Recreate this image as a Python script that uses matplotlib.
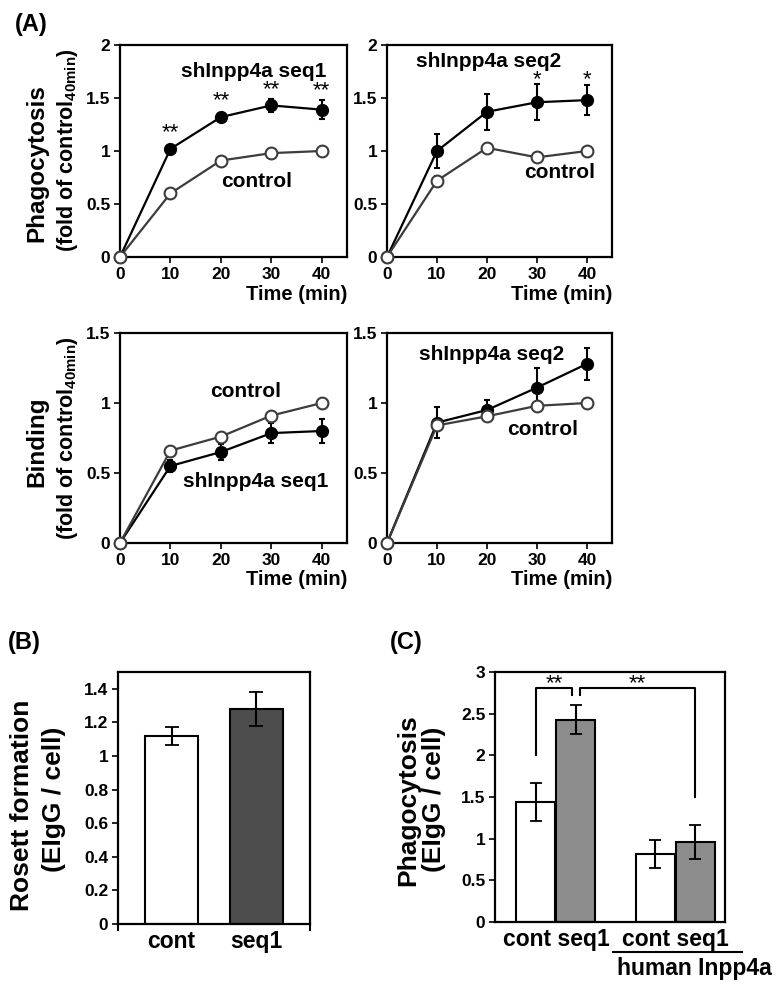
import matplotlib
matplotlib.use("Agg")
import matplotlib.pyplot as plt
from matplotlib.lines import Line2D

plt.rcParams['font.family'] = ['Liberation Sans', 'DejaVu Sans']
plt.rcParams['font.weight'] = 'bold'
plt.rcParams['mathtext.fontset'] = 'custom'
plt.rcParams['mathtext.rm'] = 'Liberation Sans'
plt.rcParams['mathtext.bf'] = 'Liberation Sans:bold'

# ---------------- data ----------------
time = [0, 10, 20, 30, 40]
time_ticks = [0, 10, 20, 30, 40]

# Phagocytosis, seq1 panel
ph1_sh = [0.0, 1.02, 1.32, 1.43, 1.39]
ph1_sh_err = [0.0, 0.03, 0.03, 0.06, 0.09]
ph1_ct = [0.0, 0.60, 0.91, 0.98, 1.00]
ph1_ct_err = [0.0, 0.03, 0.02, 0.02, 0.0]
ph1_stars = ['', '**', '**', '**', '**']
ph1_star_y = [0, 1.17, 1.47, 1.58, 1.565]

# Phagocytosis, seq2 panel
ph2_sh = [0.0, 1.00, 1.37, 1.46, 1.48]
ph2_sh_err = [0.0, 0.16, 0.17, 0.17, 0.14]
ph2_ct = [0.0, 0.72, 1.03, 0.94, 1.00]
ph2_ct_err = [0.0, 0.04, 0.04, 0.02, 0.0]
ph2_stars = ['', '', '', '*', '*']
ph2_star_y = [0, 0, 0, 1.67, 1.67]

# Binding, seq1 panel
bd1_sh = [0.0, 0.55, 0.65, 0.785, 0.80]
bd1_sh_err = [0.0, 0.04, 0.06, 0.07, 0.085]
bd1_ct = [0.0, 0.66, 0.76, 0.91, 1.00]
bd1_ct_err = [0.0, 0.01, 0.01, 0.01, 0.0]

# Binding, seq2 panel
bd2_sh = [0.0, 0.86, 0.95, 1.11, 1.28]
bd2_sh_err = [0.0, 0.11, 0.075, 0.14, 0.115]
bd2_ct = [0.0, 0.84, 0.905, 0.98, 1.00]
bd2_ct_err = [0.0, 0.01, 0.01, 0.01, 0.0]

# (B) rosette formation
b_cats = ['cont', 'seq1']
b_vals = [1.12, 1.28]
b_err = [0.055, 0.10]
b_ticks = [0, 0.2, 0.4, 0.6, 0.8, 1.0, 1.2, 1.4]
b_ticklabels = ['0', '0.2', '0.4', '0.6', '0.8', '1', '1.2', '1.4']

# (C) phagocytosis with rescue
c_groups = ['cont seq1', 'cont seq1']
c_vals = [1.44, 2.43, 0.82, 0.96]
c_err = [0.23, 0.17, 0.17, 0.20]
c_ticks = [0, 0.5, 1, 1.5, 2, 2.5, 3]
c_ticklabels = ['0', '0.5', '1', '1.5', '2', '2.5', '3']

ph_ticks = [0, 0.5, 1, 1.5, 2]
ph_ticklabels = ['0', '0.5', '1', '1.5', '2']
bd_ticks = [0, 0.5, 1, 1.5]
bd_ticklabels = ['0', '0.5', '1', '1.5']

# ---------------- figure ----------------
W, H = 780, 985
fig = plt.figure(figsize=(W / 100, H / 100), dpi=100)
TICK_FS = 12.5
STAR_FS = 16


def ax_px(l, r, t, b):
    return fig.add_axes([l / W, 1 - b / H, (r - l) / W, (b - t) / H])


def style(ax):
    for s in ax.spines.values():
        s.set_linewidth(1.6)
    ax.tick_params(direction='out', length=4, width=1.2, labelsize=TICK_FS, pad=3)


def line_panel(ax, sh, sh_err, ct, ct_err, ymax, yt, ytl):
    ax.errorbar(time, sh, yerr=sh_err, color='black', lw=1.6, marker='o',
                ms=8.5, mfc='black', mec='black', ecolor='black',
                elinewidth=1.5, capsize=2.5, capthick=1.5, zorder=3)
    ax.errorbar(time, ct, yerr=ct_err, color='#3c3c3c', lw=1.6, marker='o',
                ms=8.5, mfc='white', mec='#3c3c3c', mew=1.5, ecolor='#3c3c3c',
                elinewidth=1.5, capsize=2.5, capthick=1.5, zorder=4)
    ax.set_xlim(0, 45)
    ax.set_ylim(0, ymax)
    ax.set_xticks(time_ticks)
    ax.set_xticklabels([str(t) for t in time_ticks])
    ax.set_yticks(yt)
    ax.set_yticklabels(ytl)
    for c in ax.get_children():
        if isinstance(c, Line2D):
            c.set_clip_on(False)
    style(ax)
    ax.text(1.0, -0.13, 'Time (min)', transform=ax.transAxes, ha='right',
            va='top', fontsize=14.5)


ax1 = ax_px(120, 347, 45, 257)
line_panel(ax1, ph1_sh, ph1_sh_err, ph1_ct, ph1_ct_err, 2, ph_ticks, ph_ticklabels)
for t, s, y in zip(time, ph1_stars, ph1_star_y):
    if s:
        ax1.text(t, y, s, ha='center', va='center', fontsize=STAR_FS, fontweight='normal')
ax1.text(26.6, 1.75, 'shInpp4a seq1', ha='center', va='center', fontsize=15)
ax1.text(27, 0.71, 'control', ha='center', va='center', fontsize=15)

ax2 = ax_px(387, 612, 45, 257)
line_panel(ax2, ph2_sh, ph2_sh_err, ph2_ct, ph2_ct_err, 2, ph_ticks, ph_ticklabels)
for t, s, y in zip(time, ph2_stars, ph2_star_y):
    if s:
        ax2.text(t, y, s, ha='center', va='center', fontsize=STAR_FS, fontweight='normal')
ax2.text(20.3, 1.84, 'shInpp4a seq2', ha='center', va='center', fontsize=15)
ax2.text(34.5, 0.80, 'control', ha='center', va='center', fontsize=15)

ax3 = ax_px(120, 347, 333, 543)
line_panel(ax3, bd1_sh, bd1_sh_err, bd1_ct, bd1_ct_err, 1.5, bd_ticks, bd_ticklabels)
ax3.text(24.9, 1.08, 'control', ha='center', va='center', fontsize=15)
ax3.text(26.9, 0.44, 'shInpp4a seq1', ha='center', va='center', fontsize=15)

ax4 = ax_px(387, 612, 333, 543)
line_panel(ax4, bd2_sh, bd2_sh_err, bd2_ct, bd2_ct_err, 1.5, bd_ticks, bd_ticklabels)
ax4.text(20.9, 1.35, 'shInpp4a seq2', ha='center', va='center', fontsize=15)
ax4.text(31.2, 0.81, 'control', ha='center', va='center', fontsize=15)

# y labels for (A)
sub = r'(fold of control$_{\mathrm{40min}}$)'
fig.text(37 / W, 1 - 163 / H, 'Phagocytosis', rotation=90, ha='center', va='center', fontsize=17.5)
fig.text(67 / W, 1 - 150 / H, sub, rotation=90, ha='center', va='center', fontsize=15.5)
fig.text(37 / W, 1 - 442 / H, 'Binding', rotation=90, ha='center', va='center', fontsize=17.5)
fig.text(67 / W, 1 - 438 / H, sub, rotation=90, ha='center', va='center', fontsize=15.5)

# ---------------- (B) ----------------
axb = ax_px(118, 310, 672, 924)
xb = list(range(len(b_cats)))
axb.bar(xb, b_vals, width=0.62, color=['white', '#4d4d4d'], edgecolor='black',
        linewidth=1.5, zorder=2)
axb.errorbar(xb, b_vals, yerr=b_err, fmt='none', ecolor='black', elinewidth=1.5,
             capsize=5, capthick=1.3, zorder=3)
axb.set_xlim(-0.63, 1.63)
axb.set_ylim(0, 1.5)
axb.set_yticks(b_ticks)
axb.set_yticklabels(b_ticklabels)
axb.set_xticks(xb)
axb.set_xticklabels(b_cats, fontsize=16.5)
style(axb)
axb.tick_params(axis='x', length=0, pad=4, labelsize=16.5)
axb.set_xticks([-0.63, 1.63], minor=True)
axb.tick_params(axis='x', which='minor', direction='out', length=5, width=1.5)
fig.text(22 / W, 1 - 805 / H, 'Rosett formation', rotation=90, ha='center', va='center', fontsize=19)
fig.text(54 / W, 1 - 799 / H, '(EIgG / cell)', rotation=90, ha='center', va='center', fontsize=19)

# ---------------- (C) ----------------
axc = ax_px(495, 725, 672, 922)
xc = [0, 1, 3, 4]
axc.bar(xc, c_vals, width=0.98, color=['white', '#8c8c8c', 'white', '#8c8c8c'],
        edgecolor='black', linewidth=1.5, zorder=2)
axc.errorbar(xc, c_vals, yerr=c_err, fmt='none', ecolor='black', elinewidth=1.5,
             capsize=4, capthick=1.3, zorder=3)
axc.set_xlim(-1.03, 4.75)
axc.set_ylim(0, 3)
axc.set_yticks(c_ticks)
axc.set_yticklabels(c_ticklabels)
axc.set_xticks([0.5, 3.5])
axc.set_xticklabels(c_groups)
style(axc)
axc.tick_params(axis='x', length=0, pad=4, labelsize=16.5)
# significance brackets
axc.plot([xc[0], xc[0], 0.9, 0.9], [2.0, 2.81, 2.81, 2.72], color='black', lw=1.5)
axc.plot([1.1, 1.1, xc[3], xc[3]], [2.72, 2.81, 2.81, 1.5], color='black', lw=1.5)
axc.text(0.47, 2.86, '**', ha='center', va='center', fontsize=STAR_FS, fontweight='normal')
axc.text(2.55, 2.86, '**', ha='center', va='center', fontsize=STAR_FS, fontweight='normal')
axc.add_line(Line2D([0.513, 1.074], [-0.12, -0.12], transform=axc.transAxes,
                    color='black', lw=1.5, clip_on=False))
axc.text(0.865, -0.185, 'human Inpp4a', transform=axc.transAxes, ha='center',
         va='center', fontsize=16.5)
fig.text(408 / W, 1 - 800 / H, 'Phagocytosis', rotation=90, ha='center', va='center', fontsize=19)
fig.text(434 / W, 1 - 799 / H, '(EIgG / cell)', rotation=90, ha='center', va='center', fontsize=19)

# panel letters
fig.text(15 / W, 1 - 24 / H, '(A)', ha='left', va='center', fontsize=17)
fig.text(8 / W, 1 - 643 / H, '(B)', ha='left', va='center', fontsize=17)
fig.text(390 / W, 1 - 643 / H, '(C)', ha='left', va='center', fontsize=17)

fig.savefig('out.png', dpi=100)
